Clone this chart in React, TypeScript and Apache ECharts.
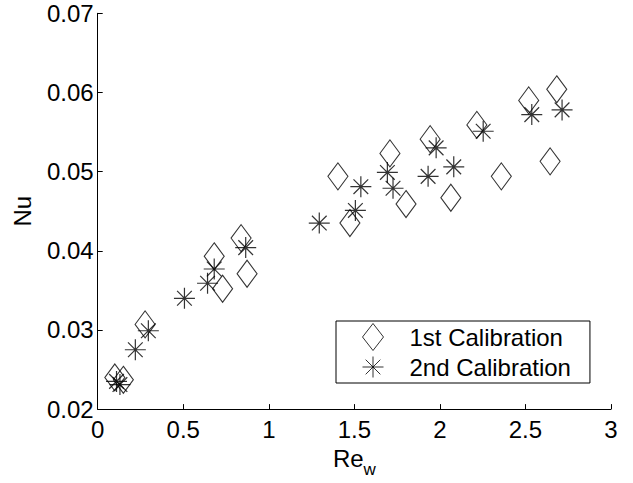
import React, { useEffect, useRef } from "react";
import * as echarts from "echarts";

const firstCalRe = [0.10, 0.15, 0.277, 0.681, 0.73, 0.838, 0.873, 1.404, 1.474, 1.708, 1.802, 1.943, 2.064, 2.216, 2.359, 2.519, 2.644, 2.683];
const firstCalNu = [0.0240, 0.0237, 0.0307, 0.0393, 0.0352, 0.0416, 0.0371, 0.0494, 0.0435, 0.0523, 0.0459, 0.0541, 0.0467, 0.0559, 0.0494, 0.0590, 0.0513, 0.0604];
const secondCalRe = [0.11, 0.13, 0.22, 0.296, 0.507, 0.642, 0.681, 0.865, 1.295, 1.506, 1.538, 1.693, 1.726, 1.931, 1.978, 2.081, 2.253, 2.537, 2.714];
const secondCalNu = [0.0235, 0.0231, 0.0275, 0.0299, 0.0340, 0.0359, 0.0377, 0.0404, 0.0435, 0.0451, 0.0481, 0.0499, 0.0479, 0.0494, 0.0530, 0.0506, 0.0551, 0.0572, 0.0578];
const seriesNames = ["1st Calibration", "2nd Calibration"];
const xTicks = [0, 0.5, 1, 1.5, 2, 2.5, 3];
const yTicks = [0.02, 0.03, 0.04, 0.05, 0.06, 0.07];

const FONT = "'Liberation Sans', Arial, Helvetica, sans-serif";
const STAR = "path://M10 0 L10 20 M0 10 L20 10 M3 3 L17 17 M17 3 L3 17";

export default function App() {
  const ref = useRef<HTMLDivElement>(null);
  useEffect(() => {
    if (!ref.current) return;
    const chart = echarts.init(ref.current, undefined, { renderer: "svg" });
    const pts = (xs: number[], ys: number[]) => xs.map((x, i) => [x, ys[i]]);
    chart.setOption({
      animation: false,
      backgroundColor: "#fff",
      textStyle: { fontFamily: FONT },
      grid: { left: 97.7, right: 22, top: 13.3, bottom: 64.7, containLabel: false },
      xAxis: {
        type: "value",
        min: 0,
        max: 3,
        interval: 0.5,
        name: "{a|Re}{b|w}",
        nameLocation: "middle",
        nameGap: 31,
        nameTextStyle: {
          rich: {
            a: { fontSize: 24, fontFamily: FONT, color: "#000", verticalAlign: "top" },
            b: { fontSize: 17, fontFamily: FONT, color: "#000", padding: [15, 0, 0, 0], verticalAlign: "top" },
          },
        },
        axisLine: { lineStyle: { color: "#000", width: 1 } },
        axisTick: { inside: true, length: 5, lineStyle: { color: "#000" } },
        axisLabel: {
          color: "#000",
          fontSize: 24,
          fontFamily: FONT,
          margin: 8,
          formatter: (v: number) => (xTicks.includes(v) ? String(v) : ""),
        },
        splitLine: { show: false },
      },
      yAxis: {
        type: "value",
        min: 0.02,
        max: 0.07,
        interval: 0.01,
        name: "Nu",
        nameLocation: "middle",
        nameGap: 63,
        nameTextStyle: { color: "#000", fontSize: 24, fontFamily: FONT },
        axisLine: { show: true, lineStyle: { color: "#000", width: 1 } },
        axisTick: { show: true, inside: true, length: 5, lineStyle: { color: "#000" } },
        axisLabel: {
          color: "#000",
          fontSize: 24,
          fontFamily: FONT,
          margin: 4,
          formatter: (v: number) => {
            const t = yTicks.find((y) => Math.abs(y - v) < 1e-9);
            return t !== undefined ? t.toFixed(2) : "";
          },
        },
        splitLine: { show: false },
      },
      legend: {
        orient: "vertical",
        left: 336,
        top: 321,
        padding: [2, 19, 3, 24],
        itemGap: 3,
        itemWidth: 21,
        itemHeight: 27,
        borderColor: "#000",
        borderWidth: 1,
        backgroundColor: "#fff",
        borderRadius: 0,
        textStyle: { color: "#000", fontSize: 24, fontFamily: FONT, padding: [0, 0, 0, 21], lineHeight: 24 },
        data: [
          { name: seriesNames[0], icon: "diamond", itemStyle: { borderWidth: 1, color: "rgba(0,0,0,0)", borderColor: "#000" } },
          { name: seriesNames[1], icon: STAR, itemStyle: { borderWidth: 1, color: "none", borderColor: "#000" } },
        ],
      },
      series: [
        {
          name: seriesNames[0],
          type: "scatter",
          symbol: "diamond",
          symbolSize: [20, 27],
          itemStyle: { color: "rgba(0,0,0,0)", borderColor: "#000", borderWidth: 1.1 },
          data: pts(firstCalRe, firstCalNu),
          z: 2,
        },
        {
          name: seriesNames[1],
          type: "scatter",
          symbol: STAR,
          symbolSize: [21, 21],
          itemStyle: { color: "none", borderColor: "#000", borderWidth: 1.2 },
          data: pts(secondCalRe, secondCalNu),
          z: 3,
        },
      ],
    });
    return () => chart.dispose();
  }, []);
  return <div ref={ref} style={{ width: 633, height: 483, position: "absolute", left: 0, top: 0 }} />;
}
